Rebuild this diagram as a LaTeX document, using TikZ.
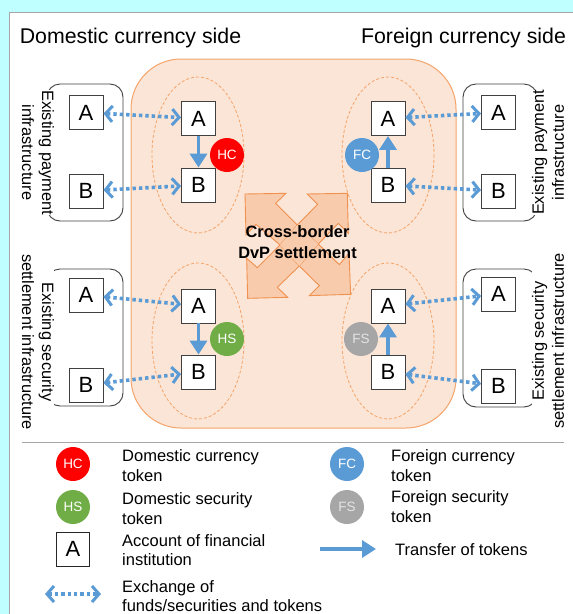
\documentclass[tikz,border=0pt]{standalone}
\usepackage{fontspec}
\setmainfont{Liberation Sans}
\usetikzlibrary{arrows.meta}
\definecolor{bluearr}{HTML}{5B9BD5}
\definecolor{peach}{HTML}{FBE5D6}
\definecolor{peachd}{HTML}{F8CBAD}
\definecolor{orangeb}{HTML}{F4A46A}
\definecolor{crossb}{HTML}{F0914F}
\tikzset{
  acct/.style={draw=black!75,fill=white,line width=0.9pt,minimum width=34pt,minimum height=34pt,inner sep=0pt,font=\fontsize{22}{22}\selectfont},
  legacct/.style={acct,draw=black!85,minimum width=33pt},
  infra/.style={draw=black!75,line width=0.9pt,rounded corners=13pt},
  zone/.style={draw=orangeb,dashed,line width=0.8pt,dash pattern=on 3pt off 2pt},
  tokenc/.style={circle,minimum size=34pt,inner sep=0pt,text=white,font=\fontsize{13.5}{13.5}\selectfont},
  xchg/.style={draw=bluearr,line width=3.6pt,dash pattern=on 3.4pt off 3pt,{Straight Barb[length=7pt,width=16pt,line width=3pt]}-{Straight Barb[length=7pt,width=16pt,line width=3pt]}},
  xfer/.style={draw=bluearr,line width=3.6pt,-{Triangle[length=14pt,width=17pt]}},
  sidelab/.style={font=\fontsize{21.3}{22}\selectfont,anchor=center,inner sep=0pt},
  vertl/.style={font=\fontsize{16.4}{20}\selectfont,align=center,inner sep=0pt,fill=white},
  legt/.style={font=\fontsize{16.5}{19.6}\selectfont,align=left,anchor=west,inner sep=0pt},
  crossa/.style={fill=peachd,draw=crossb,line width=0.9pt,line join=miter},
}
\begin{document}
\begin{tikzpicture}[x=1pt,y=-1pt]
\useasboundingbox (0,0) rectangle (573,614);
\fill[fill={rgb,255:red,191;green,255;blue,255}] (0,0) rectangle (573,614);
\fill[white] (9,12) rectangle (573,614);
\draw[black!35,line width=1pt] (9.5,614) -- (9.5,12.5) -- (573,12.5);

\node[sidelab] (tl) at (130.5,37.5) {Domestic currency side};
\node[sidelab] (tr) at (463.5,37.5) {Foreign currency side};

\draw[draw=orangeb,fill=peach,line width=1pt,rounded corners=50pt] (131,59) rectangle (456,428);

% cross arrows
\begin{scope}[shift={(180,170)},scale=0.3333]
\draw[crossa] (195,72)--(318,70)--(287,100)--(352,165)--(300,225)--(228,163)--(198,195)--cycle;
\draw[crossa] (382,72)--(502,70)--(505,190)--(475,160)--(415,222)--(352,165)--(413,103)--cycle;
\draw[crossa] (512,373)--(388,377)--(418,347)--(358,288)--(415,222)--(478,284)--(507,250)--cycle;
\draw[crossa] (203,385)--(200,265)--(232,293)--(300,225)--(358,288)--(292,352)--(323,382)--cycle;
\fill[peachd] (352,165)--(415,222)--(358,288)--(300,225)--cycle;
\end{scope}
\node[font=\bfseries\fontsize{16.4}{21}\selectfont,align=center,inner sep=0pt] (cb) at (297.5,242) {Cross-border\\DvP settlement};

% zones
\draw[zone] (198,155) ellipse [x radius=46,y radius=78];
\draw[zone] (388,155) ellipse [x radius=46,y radius=78];
\draw[zone] (198,341) ellipse [x radius=46,y radius=78];
\draw[zone] (388,341) ellipse [x radius=46,y radius=78];

% infrastructure boxes
\draw[infra] (47,84) rectangle (123,221);
\draw[infra] (47,269) rectangle (123,406);
\draw[infra] (463,84) rectangle (537,221);
\draw[infra] (463,269) rectangle (537,407);

\node[vertl,rotate=-90] (v1) at (38,152.5) {Existing payment\\infrastructure};
\node[vertl,rotate=-90] (v2) at (38,342) {Existing security\\settlement infrastructure};
\node[vertl,rotate=90] (v3) at (548,152.5) {Existing payment\\infrastructure};
\node[vertl,rotate=90] (v4) at (548,341) {Existing security\\settlement infrastructure};

% accounts
\node[acct] (oa1) at (86,112.5) {A};
\node[acct] (ob1) at (86,191) {B};
\node[acct] (oa2) at (86,295) {A};
\node[acct] (ob2) at (86,385) {B};
\node[acct] (ia1) at (198.5,118.5) {A};
\node[acct] (ib1) at (198.5,185) {B};
\node[acct] (ia2) at (198.5,306) {A};
\node[acct] (ib2) at (198.5,372) {B};
\node[acct] (ja1) at (388,118.5) {A};
\node[acct] (jb1) at (388,185) {B};
\node[acct] (ja2) at (388,306) {A};
\node[acct] (jb2) at (388,372) {B};
\node[acct] (pa1) at (498.5,112.5) {A};
\node[acct] (pb1) at (498.5,191) {B};
\node[acct] (pa2) at (498.5,294) {A};
\node[acct] (pb2) at (498.5,386) {B};

% tokens
\node[tokenc,fill=red] (hc) at (227,155) {HC};
\node[tokenc,fill=bluearr] (fc) at (362,155) {FC};
\node[tokenc,fill={rgb,255:red,112;green,173;blue,71}] (hs) at (227,339) {HS};
\node[tokenc,fill=black!35,text=white!90!black] (fs) at (361,339) {FS};

% transfers
\draw[xfer] (ia1) -- (ib1);
\draw[xfer] (ia2) -- (ib2);
\draw[xfer] (jb1) -- (ja1);
\draw[xfer] (jb2) -- (ja2);

% exchanges
\draw[xchg] (oa1) -- (ia1);
\draw[xchg] (ob1) -- (ib1);
\draw[xchg] (oa2) -- (ia2);
\draw[xchg] (ob2) -- (ib2);
\draw[xchg] (ja1) -- (pa1);
\draw[xchg] (jb1) -- (pb1);
\draw[xchg] (ja2) -- (pa2);
\draw[xchg] (jb2) -- (pb2);

% legend
\coordinate (dl) at (22,442);
\coordinate (dr) at (564,442);
\draw[black!35,line width=1pt] (dl) -- (dr);
\node[tokenc,fill=red] (lhc) at (73,464) {HC};
\node[tokenc,fill={rgb,255:red,112;green,173;blue,71}] (lhs) at (73,507) {HS};
\node[legacct] (la) at (73,549) {A};
\node[tokenc,fill=bluearr] (lfc) at (347,464) {FC};
\node[tokenc,fill=black!35,text=white!90!black] (lfs) at (347,507) {FS};
\node[legt] (t1) at (122,465.5) {Domestic currency\\token};
\node[legt] (t2) at (122,508.5) {Domestic security\\token};
\node[legt] (t3) at (122,550) {Account of financial\\institution};
\node[legt] (t4) at (122,596) {Exchange of\\funds/securities and tokens};
\node[legt] (t5) at (391,465.5) {Foreign currency\\token};
\node[legt] (t6) at (391,506.5) {Foreign security\\token};
\node[legt] (t7) at (395,549.5) {Transfer of tokens};
\coordinate (x1) at (320,549);
\coordinate (x2) at (376,549);
\draw[xfer] (x1) -- (x2);
\coordinate (e1) at (45,594);
\coordinate (e2) at (101,594);
\draw[xchg] (e1) -- (e2);
\end{tikzpicture}
\end{document}
